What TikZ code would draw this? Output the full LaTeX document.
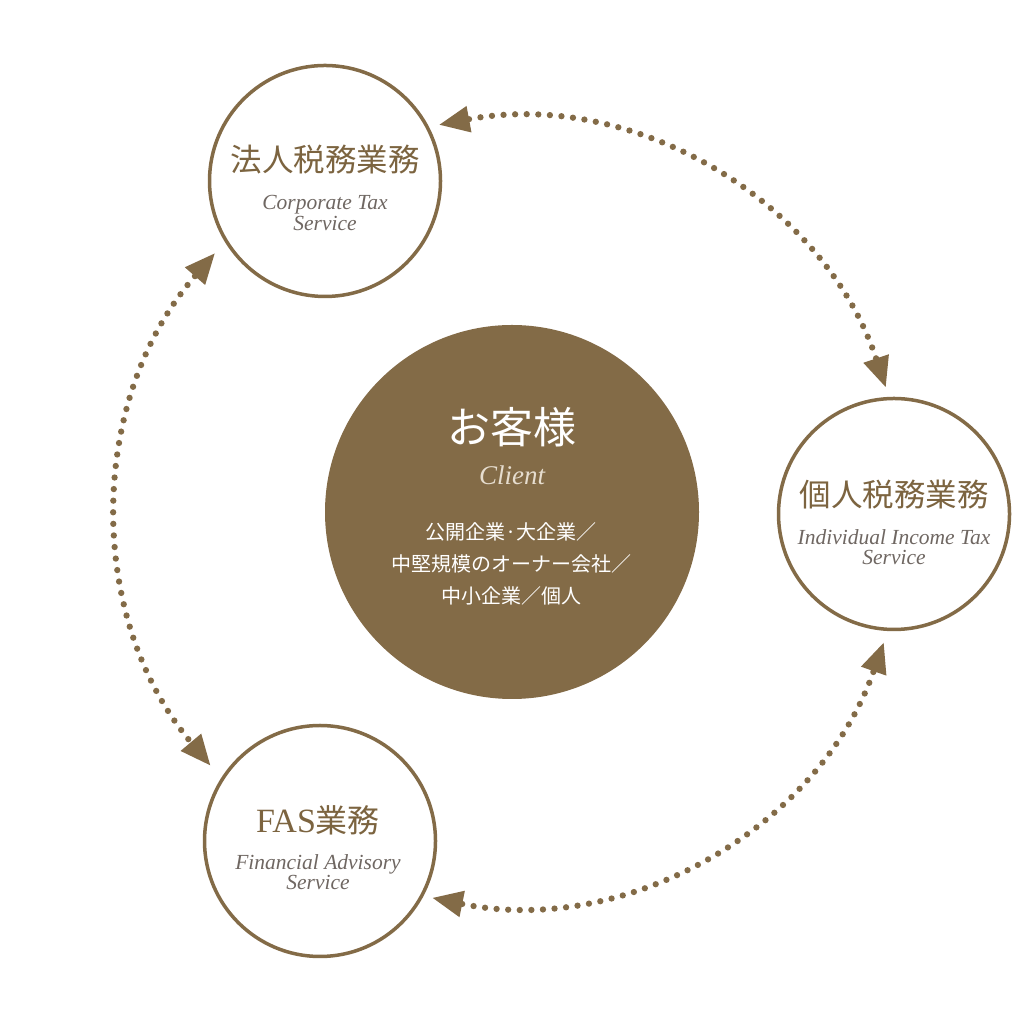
\documentclass[tikz,border=0pt]{standalone}
\usepackage{fontspec}
\setmainfont{Liberation Serif}
\newfontfamily\jpfont{Noto Sans CJK JP}
\usetikzlibrary{arrows.meta,calc}
\definecolor{gold}{HTML}{836B47}
\definecolor{jptext}{HTML}{7C6440}
\definecolor{entext}{HTML}{6F6762}
\definecolor{clienttext}{HTML}{E6DDCF}
\begin{document}
\begin{tikzpicture}[x=1pt,y=1pt,
  svc/.style={circle,draw=gold,line width=3.5pt,fill=white,minimum size=231pt,inner sep=0pt},
  hub/.style={circle,fill=gold,minimum size=374pt,inner sep=0pt},
  jp/.style={text=jptext,font=\jpfont\fontsize{31.5}{36}\selectfont,inner sep=0pt},
  en/.style={text=entext,font=\itshape\fontsize{21.5}{20.5}\selectfont,align=center,inner sep=0pt},
  tipstyle/.tip={Triangle[length=30pt,width=27pt,line width=0pt,sharp]},
  link/.style={draw=gold,line width=6.3pt,line cap=round,dash pattern=on 0pt off 11.6pt,tipstyle-tipstyle}]
\useasboundingbox (0,0) rectangle (1024,1024);
\fill[white] (0,0) rectangle (1024,1024);

\coordinate (o) at (512,512);

% hub
\node[hub] (client) at (512,512) {};
\node[text=white,font=\jpfont\fontsize{43}{46}\selectfont,inner sep=0pt] (clientjp) at (512,597) {お客様};
\node[text=clienttext,font=\itshape\fontsize{27}{28}\selectfont,inner sep=0pt] (clienten) at (512,549) {Client};
\node[text=white,font=\jpfont\fontsize{20}{32}\selectfont,align=center,inner sep=0pt] (clientlist) at (511,460)
  {公開企業·大企業／\\中堅規模のオーナー会社／\\中小企業／個人};

% service circles
\node[svc] (corp) at (325,843) {};
\node[jp] (corpjp) at (325,864) {法人税務業務};
\node[en] (corpen) at (325,811) {Corporate Tax\\Service};

\node[svc] (indiv) at (894,510) {};
\node[jp] (indivjp) at (894,529) {個人税務業務};
\node[en] (indiven) at (894,477) {Individual Income Tax\\Service};

\node[svc] (fas) at (320,183) {};
\node[text=jptext,font=\fontsize{34}{36}\selectfont,inner sep=0pt] (fasjp) at (318,204) {FAS{\jpfont\fontsize{32}{36}\selectfont 業務}};
\node[en] (fasen) at (318,152) {Financial Advisory\\Service};

% dotted arcs
\coordinate (t1) at ($(o)+(100.6:394)$);
\coordinate (l1) at ($(o)+(139:394)$);
\coordinate (b1) at ($(o)+(258.4:394)$);
\draw[link] (t1) arc[start angle=100.6,end angle=18.5,radius=394];
\draw[link] (l1) arc[start angle=139,end angle=220,radius=394];
\draw[link] (b1) arc[start angle=258.4,end angle=340.6,radius=394];
\end{tikzpicture}
\end{document}
